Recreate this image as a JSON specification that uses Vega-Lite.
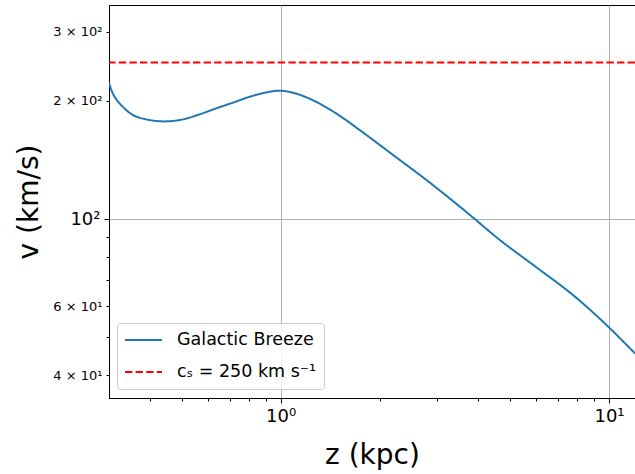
{
  "$schema": "https://vega.github.io/schema/vega-lite/v6.json",
  "width": 526,
  "height": 393,
  "autosize": {"type": "none"},
  "padding": {"left": 109, "top": 5, "right": 0, "bottom": 76},
  "background": "white",
  "config": {
    "view": {"stroke": "black", "strokeWidth": 1},
    "font": "DejaVu Sans"
  },
  "layer": [
    {
      "data": {
        "values": [
          {"z": 0.300, "v": 222.5, "series": "Galactic Breeze"},
          {"z": 0.308, "v": 208.8, "series": "Galactic Breeze"},
          {"z": 0.323, "v": 197.0, "series": "Galactic Breeze"},
          {"z": 0.355, "v": 183.9, "series": "Galactic Breeze"},
          {"z": 0.399, "v": 178.6, "series": "Galactic Breeze"},
          {"z": 0.448, "v": 177.2, "series": "Galactic Breeze"},
          {"z": 0.504, "v": 179.3, "series": "Galactic Breeze"},
          {"z": 0.566, "v": 184.6, "series": "Galactic Breeze"},
          {"z": 0.637, "v": 191.3, "series": "Galactic Breeze"},
          {"z": 0.715, "v": 197.7, "series": "Galactic Breeze"},
          {"z": 0.804, "v": 204.6, "series": "Galactic Breeze"},
          {"z": 0.905, "v": 210.0, "series": "Galactic Breeze"},
          {"z": 0.993, "v": 212.1, "series": "Galactic Breeze"},
          {"z": 1.090, "v": 209.6, "series": "Galactic Breeze"},
          {"z": 1.198, "v": 204.0, "series": "Galactic Breeze"},
          {"z": 1.315, "v": 196.5, "series": "Galactic Breeze"},
          {"z": 1.500, "v": 184.0, "series": "Galactic Breeze"},
          {"z": 1.741, "v": 168.4, "series": "Galactic Breeze"},
          {"z": 2.200, "v": 145.5, "series": "Galactic Breeze"},
          {"z": 2.782, "v": 125.6, "series": "Galactic Breeze"},
          {"z": 3.514, "v": 107.5, "series": "Galactic Breeze"},
          {"z": 3.857, "v": 100.8, "series": "Galactic Breeze"},
          {"z": 4.653, "v": 88.4, "series": "Galactic Breeze"},
          {"z": 5.877, "v": 76.4, "series": "Galactic Breeze"},
          {"z": 7.430, "v": 66.0, "series": "Galactic Breeze"},
          {"z": 8.551, "v": 59.8, "series": "Galactic Breeze"},
          {"z": 9.950, "v": 53.2, "series": "Galactic Breeze"},
          {"z": 12.00, "v": 45.5, "series": "Galactic Breeze"}
        ]
      },
      "mark": {"type": "line", "clip": true, "strokeWidth": 2, "interpolate": "catmull-rom"},
      "encoding": {
        "x": {
          "field": "z", "type": "quantitative",
          "scale": {"type": "log", "domain": [0.3, 12], "nice": false, "zero": false},
          "axis": {
            "values": [0.4, 0.5, 0.6, 0.7, 0.8, 0.9, 1, 2, 3, 4, 5, 6, 7, 8, 9, 10],
            "labelExpr": "datum.value == 1 ? '10⁰' : datum.value == 10 ? '10¹' : ''",
            "labelOverlap": false,
            "labelFlush": false,
            "labelFontSize": 18,
            "labelColor": "black",
            "labelPadding": 4,
            "tickColor": "black",
            "tickSize": {"condition": {"test": "datum.value == 1 || datum.value == 10", "value": 5}, "value": 3},
            "domainColor": "black",
            "grid": true,
            "gridColor": "#b0b0b0",
            "gridWidth": 1,
            "gridOpacity": {"condition": {"test": "datum.value == 1 || datum.value == 10", "value": 1}, "value": 0},
            "title": "z (kpc)",
            "titleFontSize": 28,
            "titleFontWeight": "normal",
            "titleColor": "black",
            "titleX": 263,
            "titleY": 65,
            "titleAlign": "center",
            "titleBaseline": "alphabetic"
          }
        },
        "y": {
          "field": "v", "type": "quantitative",
          "scale": {"type": "log", "domain": [35.04, 350.4], "nice": false, "zero": false},
          "axis": {
            "values": [40, 50, 60, 70, 80, 90, 100, 200, 300],
            "labelExpr": "datum.value == 100 ? '10²' : datum.value == 200 ? '2 × 10²' : datum.value == 300 ? '3 × 10²' : datum.value == 60 ? '6 × 10¹' : datum.value == 40 ? '4 × 10¹' : ''",
            "labelOverlap": false,
            "labelFlush": false,
            "labelFontSize": {"condition": {"test": "datum.value == 100", "value": 18}, "value": 13},
            "labelColor": "black",
            "labelPadding": 4,
            "tickColor": "black",
            "tickSize": {"condition": {"test": "datum.value == 100", "value": 5}, "value": 3},
            "domainColor": "black",
            "grid": true,
            "gridColor": "#b0b0b0",
            "gridWidth": 1,
            "gridOpacity": {"condition": {"test": "datum.value == 100", "value": 1}, "value": 0},
            "title": "v (km/s)",
            "titleFontSize": 28,
            "titleFontWeight": "normal",
            "titleColor": "black",
            "titleX": -72,
            "titleY": 196.5,
            "titleAngle": 270,
            "titleAlign": "center",
            "titleBaseline": "alphabetic"
          }
        },
        "color": {
          "field": "series", "type": "nominal",
          "scale": {"domain": ["Galactic Breeze", "cₛ = 250 km s⁻¹"], "range": ["#1f77b4", "#ff0000"]},
          "legend": {
            "title": null,
            "orient": "none",
            "legendX": 8,
            "legendY": 318,
            "symbolType": "stroke",
            "symbolSize": 1369,
            "symbolStrokeWidth": 2,
            "labelFontSize": 17.5,
            "labelColor": "black",
            "labelOffset": 14,
            "padding": 7,
            "clipHeight": 20,
            "rowPadding": 12,
            "fillColor": "rgba(255,255,255,0.8)",
            "strokeColor": "#cccccc",
            "cornerRadius": 3
          }
        },
        "strokeDash": {
          "field": "series", "type": "nominal",
          "scale": {"domain": ["Galactic Breeze", "cₛ = 250 km s⁻¹"], "range": [[1, 0], [7.4, 3.2]]},
          "legend": {
            "title": null,
            "orient": "none",
            "legendX": 8,
            "legendY": 318,
            "symbolType": "stroke",
            "symbolSize": 1369,
            "symbolStrokeWidth": 2,
            "labelFontSize": 17.5,
            "labelColor": "black",
            "labelOffset": 14,
            "padding": 7,
            "clipHeight": 20,
            "rowPadding": 12,
            "fillColor": "rgba(255,255,255,0.8)",
            "strokeColor": "#cccccc",
            "cornerRadius": 3
          }
        }
      }
    },
    {
      "data": {"values": [{"v": 250, "series": "cₛ = 250 km s⁻¹"}]},
      "mark": {"type": "rule", "strokeWidth": 2},
      "encoding": {
        "y": {"field": "v", "type": "quantitative"},
        "color": {"field": "series", "type": "nominal"},
        "strokeDash": {"field": "series", "type": "nominal"}
      }
    }
  ]
}
